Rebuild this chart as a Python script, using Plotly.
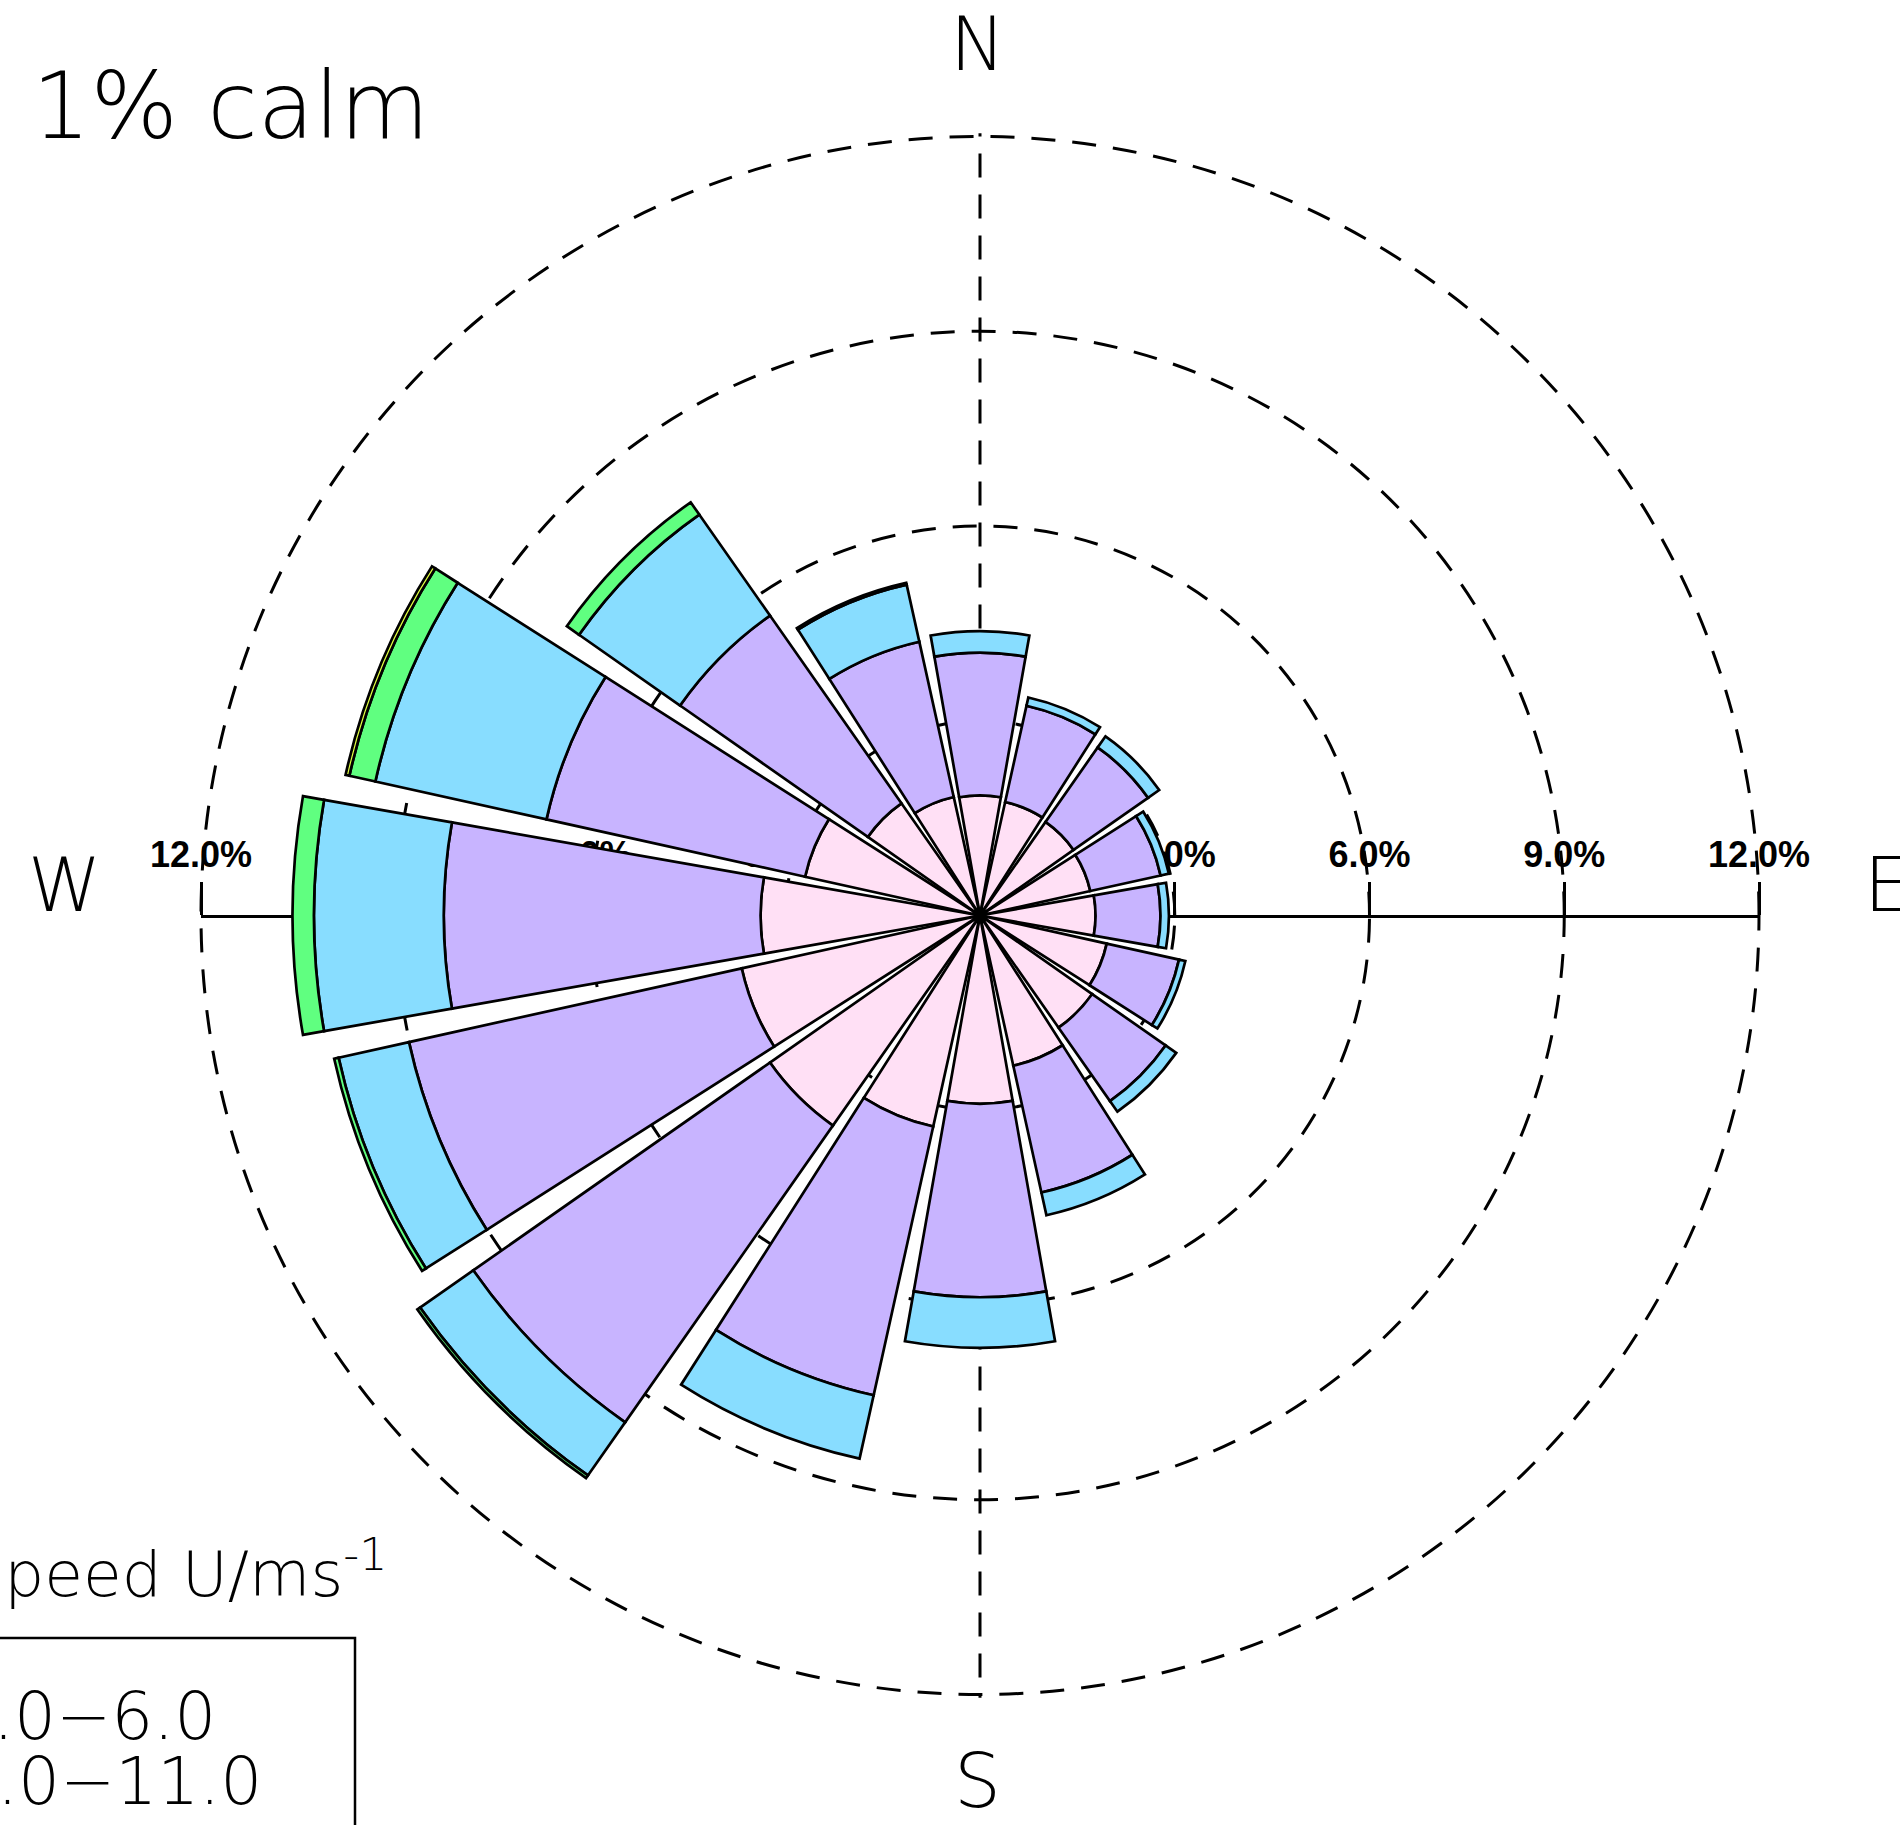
import plotly.graph_objects as go

# Wind directions (compass sectors) and their bearings in degrees
directions = ["N", "NNE", "NE", "ENE", "E", "ESE", "SE", "SSE",
              "S", "SSW", "SW", "WSW", "W", "WNW", "NW", "NNW"]
bearings = [0, 22.5, 45, 67.5, 90, 112.5, 135, 157.5,
            180, 202.5, 225, 247.5, 270, 292.5, 315, 337.5]

# Frequency (%) of each speed class per direction sector
speed_1_6 = [1.85, 1.79, 1.76, 1.74, 1.78, 2.00, 2.11, 2.37,
             2.90, 3.33, 3.95, 3.76, 3.38, 2.76, 2.11, 1.87]
speed_6_11 = [2.20, 1.52, 1.40, 1.11, 1.00, 1.14, 1.38, 2.00,
              2.98, 4.24, 5.58, 5.25, 4.88, 4.08, 3.53, 2.45]
speed_11_16 = [0.33, 0.13, 0.21, 0.13, 0.13, 0.10, 0.20, 0.36,
               0.78, 1.00, 1.00, 1.11, 2.00, 2.70, 1.90, 0.90]
speed_16_21 = [0, 0, 0, 0, 0, 0, 0, 0,
               0, 0, 0.05, 0.07, 0.33, 0.41, 0.23, 0.03]
speed_21_26 = [0, 0, 0, 0, 0, 0, 0, 0,
               0, 0, 0, 0, 0, 0.06, 0, 0]

speed_bins = ["1.0\u22126.0", "6.0\u221211.0", "11.0\u221216.0",
              "16.0\u221221.0", "21.0\u221226.0"]
bin_colors = ["#FFE0F5", "#C8B4FF", "#88DDFF", "#60FF80", "#E0FF40"]

ring_values = [3, 6, 9, 12]
scale_values = [-12, -9, -6, -3, 3, 6, 9, 12]
scale_labels = ["12.0%", "9.0%", "6.0%", "3.0%", "3.0%", "6.0%", "9.0%", "12.0%"]
calm_pct = 1

W, H = 1900, 1825
cx, cy = 980, 915.5          # centre of the rose in pixels
R12 = 779                     # pixel radius of the 12% ring
r_max = 12.05                 # radial range, slightly past the 12% ring
R = R12 * r_max / 12          # pixel radius of the polar domain


def px(x):
    return x / W


def py(y):
    return 1 - y / H


domain = dict(x=[px(cx - R), px(cx + R)], y=[py(cy + R), py(cy - R)])

fig = go.Figure()

series = [speed_1_6, speed_6_11, speed_11_16, speed_16_21, speed_21_26]
for name, vals, col in zip(speed_bins, series, bin_colors):
    fig.add_trace(go.Barpolar(
        r=vals, theta=bearings, width=[20] * len(bearings),
        name=name, marker=dict(color=col, line=dict(color="black", width=2.7)),
        showlegend=False,
    ))

# empty trace that carries the horizontal percentage scale (W-E axis)
fig.add_trace(go.Scatter(x=[], y=[], xaxis="x", yaxis="y", showlegend=False))

dash = "24px,17px"
tickfont = dict(family="Liberation Sans", size=36, color="black", weight="bold")

fig.update_layout(
    width=W, height=H,
    margin=dict(l=0, r=0, t=0, b=0, autoexpand=False),
    paper_bgcolor="white",
    plot_bgcolor="rgba(0,0,0,0)",
    polar=dict(
        domain=domain,
        bgcolor="rgba(0,0,0,0)",
        barmode="stack",
        radialaxis=dict(range=[0, r_max], tickvals=ring_values,
                        showticklabels=False, ticks="", showline=False,
                        showgrid=True, gridcolor="black", gridwidth=2.5,
                        griddash=dash),
        angularaxis=dict(rotation=90, direction="clockwise", tickvals=[0, 180],
                         showticklabels=False, ticks="", showline=False,
                         showgrid=True, gridcolor="black", gridwidth=2.5,
                         griddash=dash),
    ),
    # W-E scale through the centre, drawn beneath the rose
    xaxis=dict(domain=[px(cx - R12), px(cx + R12)], range=[-12, 12],
               anchor="free", position=py(cy), side="top",
               tickvals=scale_values, ticktext=scale_labels,
               ticks="outside", ticklen=33, tickwidth=2.5, tickcolor="black",
               tickfont=tickfont, showline=True, linecolor="black",
               linewidth=2.5, showgrid=False, zeroline=False,
               automargin=False, fixedrange=True),
    yaxis=dict(domain=[0, 1], range=[-1, 1], visible=False,
               automargin=False, fixedrange=True),
)

thin = dict(family="DejaVu Sans", color="black", weight=200)

annotations = [
    dict(text=f"{calm_pct}% calm", x=px(30), y=py(106), xanchor="left",
         yanchor="middle", font=dict(**thin, size=92)),
    dict(text="N", x=px(977), y=py(44), xanchor="center", yanchor="middle",
         font=dict(**thin, size=74)),
    dict(text="S", x=px(977), y=py(1781), xanchor="center", yanchor="middle",
         font=dict(**thin, size=74)),
    dict(text="W", x=px(64), y=py(885), xanchor="center", yanchor="middle",
         font=dict(**thin, size=74)),
    dict(text="E", x=px(1862), y=py(885), xanchor="left", yanchor="middle",
         font=dict(**thin, size=74)),
    dict(text="Wind speed U/ms<sup>-1</sup>", x=px(389), y=py(1570),
         xanchor="right", yanchor="middle", font=dict(**thin, size=63)),
    dict(text=speed_bins[0], x=px(218), y=py(1716), xanchor="right",
         yanchor="middle", font=dict(**thin, size=66)),
    dict(text=speed_bins[1], x=px(264), y=py(1781), xanchor="right",
         yanchor="middle", font=dict(**thin, size=66)),
]
for a in annotations:
    a.update(xref="paper", yref="paper", showarrow=False)
fig.update_layout(annotations=annotations)

# legend frame
fig.add_shape(type="rect", xref="paper", yref="paper",
              x0=-0.05, x1=px(355), y0=-0.05, y1=py(1638),
              line=dict(color="black", width=2.5), fillcolor="rgba(0,0,0,0)")

fig.write_html("out.html")
